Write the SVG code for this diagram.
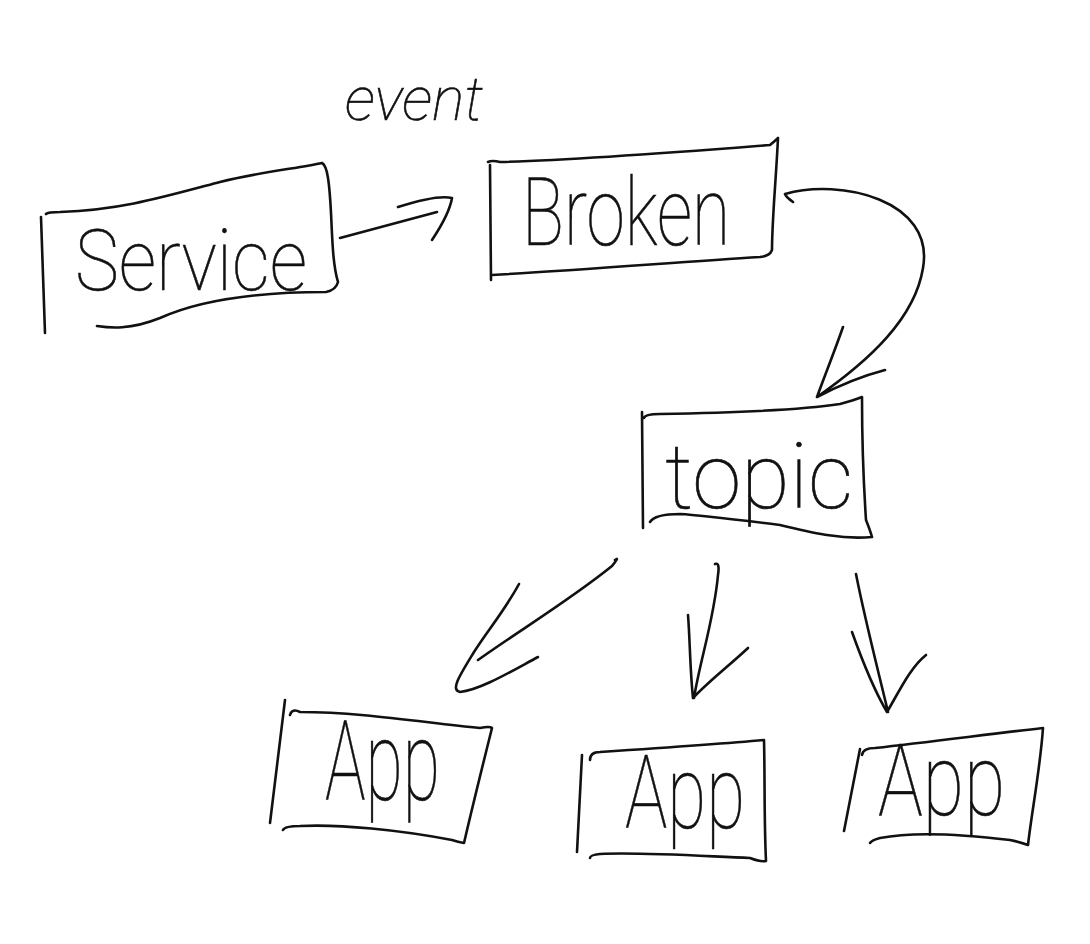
<svg xmlns="http://www.w3.org/2000/svg" width="1090" height="944" viewBox="0 0 1090 944">
<style>
.ln{fill:none;stroke:#111;stroke-width:2.6;stroke-linecap:round;stroke-linejoin:round}
.tx{font-family:Roboto,Inter,"DejaVu Sans",sans-serif;font-weight:100;fill:#111;stroke:#111;stroke-width:0.6}
</style>
<rect width="1090" height="944" fill="#fff"/>
<text class="tx" x="345" y="120" font-size="62" font-style="italic" textLength="138" lengthAdjust="spacingAndGlyphs">event</text>
<g id="service">
<path class="ln" d="M41,217 L45,333 M46,214 Q48,212 60,212 C120,210 160,198 220,182 C260,172 300,168 322,163 Q326,165 328,178 C333,210 330,255 338,282 Q336,290 326,292 C260,292 200,300 160,318 C130,330 110,328 97,326"/>
<text class="tx" x="75" y="290" font-size="86" textLength="232" lengthAdjust="spacingAndGlyphs">Service</text>
</g>
<g id="broker">
<path class="ln" d="M490,165 L491,280 M488,162 Q492,160 500,162 C580,160 680,152 770,145 Q776,140 778,138 C776,180 772,220 772,250 Q770,256 760,257 C680,262 580,270 492,275"/>
<text class="tx" x="522" y="245" font-size="95" textLength="208" lengthAdjust="spacingAndGlyphs">Broken</text>
</g>
<g id="topic">
<path class="ln" d="M642,412 L643,528 M644,418 Q645,414 660,414 C720,413 800,410 840,404 Q855,400 862,397 C862,440 864,490 866,520 Q870,530 872,537 C840,540 810,532 780,525 C740,520 700,515 680,514 Q655,514 650,522"/>
<text class="tx" x="665" y="508" font-size="90" textLength="188" lengthAdjust="spacingAndGlyphs">topic</text>
</g>
<g id="app1">
<path class="ln" d="M285,700 L270,823 M290,715 Q292,708 300,712 C360,712 420,722 480,728 Q490,726 492,728 C484,760 474,800 464,843 Q458,842 452,840 C400,830 340,824 300,826 Q285,826 283,830"/>
<text class="tx" x="325" y="800" font-size="112" textLength="115" lengthAdjust="spacingAndGlyphs">App</text>
</g>
<g id="app2">
<path class="ln" d="M582,755 L577,852 M590,760 Q590,752 600,752 C660,748 720,744 764,740 C765,780 764,820 766,861 Q760,862 750,858 C700,856 640,852 600,854 Q590,855 590,858"/>
<text class="tx" x="625" y="828" font-size="102" textLength="120" lengthAdjust="spacingAndGlyphs">App</text>
</g>
<g id="app3">
<path class="ln" d="M860,749 L844,831 M862,755 Q863,748 875,748 C930,742 990,734 1043,728 C1040,770 1032,810 1028,845 Q1020,842 1010,840 C960,834 910,832 880,838 Q872,840 870,843"/>
<text class="tx" x="878" y="815" font-size="100" textLength="127" lengthAdjust="spacingAndGlyphs">App</text>
</g>
<g id="connectors">
<path class="ln" d="M340,238 L437,212 M398,207 C420,200 440,195 452,198 C450,210 442,225 432,240"/>
<path class="ln" d="M793,202 Q786,197 785,194 C840,178 935,200 923,268 C915,318 870,360 817,397 M843,327 C835,350 825,375 817,397 C840,385 862,376 885,370"/>
<path class="ln" d="M615,560 Q620,556 612,566 C570,600 520,630 478,660 M519,584 C505,610 488,630 474,652 C460,675 450,690 460,692 C480,690 510,672 538,657"/>
<path class="ln" d="M715,564 Q720,562 718,575 C714,620 700,660 694,698 M688,615 C690,640 690,670 693,698 C710,680 730,665 748,648"/>
<path class="ln" d="M856,574 C865,620 878,670 888,712 M852,632 C862,660 874,690 887,712 C900,690 910,668 926,655"/>
</g>
</svg>
